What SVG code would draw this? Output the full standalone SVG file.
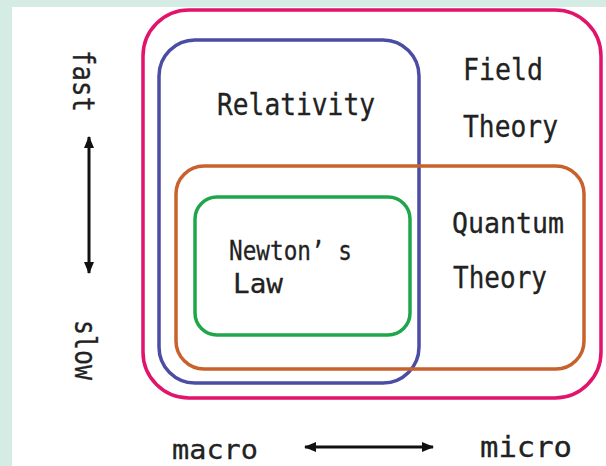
<svg xmlns="http://www.w3.org/2000/svg" width="606" height="466" viewBox="0 0 606 466">
<defs>
<style>
.t{font-family:"DejaVu Sans Mono","Liberation Mono",monospace;fill:#222;stroke:#222;stroke-width:0.3;}
.box{fill:none;stroke-width:3.5;}
.ar{stroke:#111;stroke-width:3;fill:none;}
</style>
<marker id="ah" viewBox="0 0 12 10" refX="11" refY="5" markerWidth="12" markerHeight="10" markerUnits="userSpaceOnUse" orient="auto-start-reverse">
<path d="M0,0 L12,5 L0,10 Z" fill="#111"/>
</marker>
</defs>
<rect x="0" y="0" width="606" height="466" fill="#d5ece4"/>
<rect x="12" y="7" width="594" height="459" fill="#ffffff"/>
<g id="field-theory">
<rect class="box" x="143" y="10" width="458" height="388" rx="46" ry="46" stroke="#e2136b"/>
<text class="t" x="463" y="80" font-size="30" textLength="80" lengthAdjust="spacingAndGlyphs">Field</text>
<text class="t" x="463" y="137" font-size="30" textLength="95" lengthAdjust="spacingAndGlyphs">Theory</text>
</g>
<g id="relativity">
<rect class="box" x="159" y="40" width="260" height="343" rx="36" ry="36" stroke="#4b4ca3"/>
<text class="t" x="217" y="115" font-size="31" textLength="158" lengthAdjust="spacingAndGlyphs">Relativity</text>
</g>
<g id="quantum-theory">
<rect class="box" x="176" y="166" width="408" height="203" rx="28" ry="28" stroke="#c9612d"/>
<text class="t" x="452" y="233" font-size="29" textLength="112" lengthAdjust="spacingAndGlyphs">Quantum</text>
<text class="t" x="453" y="288" font-size="30" textLength="94" lengthAdjust="spacingAndGlyphs">Theory</text>
</g>
<g id="newtons-law">
<rect class="box" x="195" y="197" width="215" height="138" rx="22" ry="22" stroke="#1fa64a"/>
<text class="t" x="229" y="260" font-size="27" textLength="123" lengthAdjust="spacingAndGlyphs">Newton’ s</text>
<text class="t" x="233" y="293" font-size="27" textLength="50" lengthAdjust="spacingAndGlyphs">Law</text>
</g>
<g id="axes">
<text class="t" transform="translate(73,50) rotate(90)" font-size="30" textLength="62" lengthAdjust="spacingAndGlyphs">fast</text>
<text class="t" transform="translate(75,320) rotate(90)" font-size="30" textLength="60" lengthAdjust="spacingAndGlyphs">slow</text>
<text class="t" x="172" y="459" font-size="27" textLength="86" lengthAdjust="spacingAndGlyphs">macro</text>
<text class="t" x="480" y="457" font-size="28" textLength="92" lengthAdjust="spacingAndGlyphs">micro</text>
</g>
<g id="connectors">
<line class="ar" x1="89" y1="137" x2="89" y2="273" marker-start="url(#ah)" marker-end="url(#ah)"/>
<line class="ar" x1="305" y1="447" x2="433" y2="447" marker-start="url(#ah)" marker-end="url(#ah)"/>
</g>
</svg>
